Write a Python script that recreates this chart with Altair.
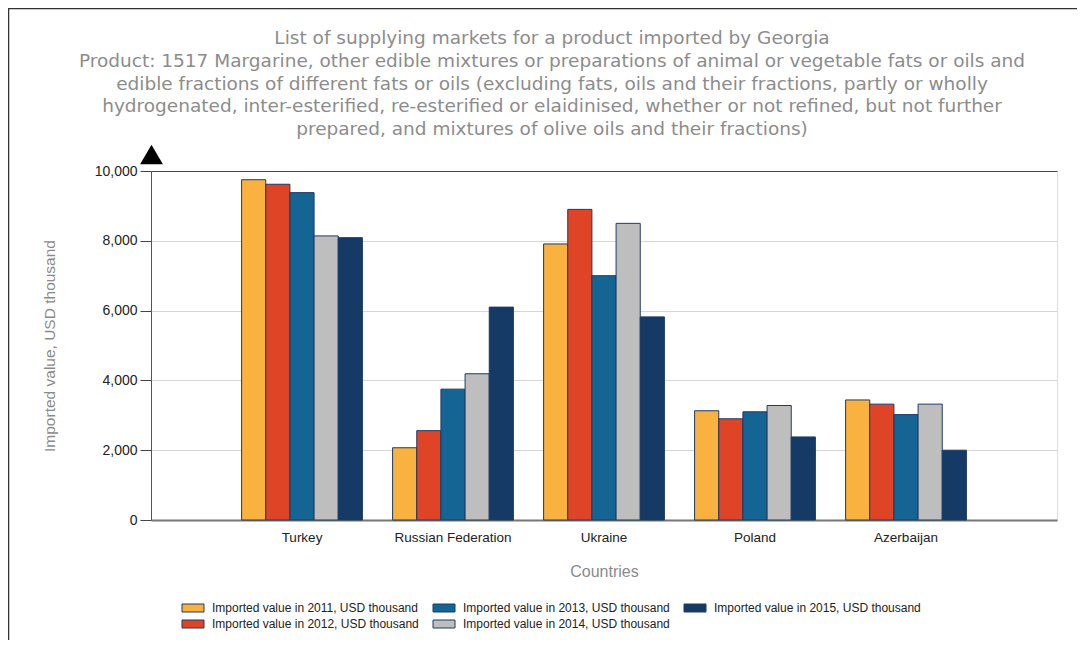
import altair as alt
import pandas as pd

countries = ["Turkey", "Russian Federation", "Ukraine", "Poland", "Azerbaijan"]
years = ["2011", "2012", "2013", "2014", "2015"]
v2011 = [9750, 2070, 7910, 3130, 3440]
v2012 = [9620, 2560, 8900, 2900, 3320]
v2013 = [9380, 3750, 7000, 3100, 3020]
v2014 = [8140, 4190, 8500, 3280, 3320]
v2015 = [8090, 6100, 5820, 2380, 2000]
colors = ["#F9B23F", "#E04427", "#156594", "#BEBEBE", "#163A66"]
y_ticks = [0, 2000, 4000, 6000, 8000, 10000]

title_lines = [
    "List of supplying markets for a product imported by Georgia",
    "Product: 1517 Margarine, other edible mixtures or preparations of animal or vegetable fats or oils and",
    "edible fractions of different fats or oils (excluding fats, oils and their fractions, partly or wholly",
    "hydrogenated, inter-esterified, re-esterified or elaidinised, whether or not refined, but not further",
    "prepared, and mixtures of olive oils and their fractions)",
]

series_names = [f"Imported value in {y}, USD thousand" for y in years]
all_vals = [v2011, v2012, v2013, v2014, v2015]
rows = []
for s, vals in zip(series_names, all_vals):
    for c, v in zip(countries, vals):
        rows.append({"Country": c, "Series": s, "Value": v})
df = pd.DataFrame(rows)

FONT = "Liberation Sans"
FRAME = "#2d4b77"

bars = alt.Chart(df).mark_bar(stroke="#1f3a63", strokeWidth=1).encode(
    x=alt.X("Country:N", sort=countries,
            scale=alt.Scale(paddingInner=0.2, paddingOuter=0.6),
            axis=alt.Axis(title="Countries", labelAngle=0, ticks=False,
                          labelFont=FONT, labelFontSize=13.5, labelColor="#222222",
                          labelPadding=10, domainColor="#777777", domainWidth=2,
                          titleFont=FONT, titleFontSize=16, titleFontWeight="normal",
                          titleColor="#8a8a8a", titlePadding=20)),
    xOffset=alt.XOffset("Series:N", sort=series_names,
                        scale=alt.Scale(paddingInner=0, paddingOuter=0)),
    y=alt.Y("Value:Q", scale=alt.Scale(domain=[0, 10000], nice=False),
            axis=alt.Axis(title="Imported value, USD thousand", values=y_ticks, format=",d",
                          labelFont=FONT, labelFontSize=14, labelColor="#222222",
                          tickSize=11, tickColor="#444444", labelPadding=3,
                          domainColor="#555555",
                          gridColor=alt.condition("datum.value == 10000", alt.value(FRAME), alt.value("#d6d6d6")),
                          titleFont=FONT, titleFontSize=15.5, titleFontWeight="normal",
                          titleColor="#8a8a8a", titlePadding=37)),
    color=alt.Color("Series:N",
                    scale=alt.Scale(domain=series_names, range=colors),
                    legend=alt.Legend(title=None, orient="none", legendX=29, legendY=431,
                                      columns=3, columnPadding=12, rowPadding=4,
                                      symbolType="M-1,-1H4.5V1H-1Z", symbolSize=64,
                                      symbolStrokeColor="#1f3a63", symbolStrokeWidth=1,
                                      symbolOpacity=1, labelFont=FONT, labelFontSize=12,
                                      labelColor="#222222", labelLimit=0, labelOffset=20,
                                      gridAlign="all")),
)

title_text = alt.Chart(alt.Data(values=[{}])).mark_text(
    text=title_lines, font="DejaVu Sans", fontSize=18.5, color="#8c8c8c",
    align="center", baseline="alphabetic", lineHeight=22.75
).encode(x=alt.value(401), y=alt.value(-127))

marker = alt.Chart(alt.Data(values=[{}])).mark_point(
    shape="triangle-up", filled=True, color="black", opacity=1, size=520
).encode(x=alt.value(0.5), y=alt.value(-16.5))

frame_left = alt.Chart(alt.Data(values=[{}])).mark_rule(color="#333333", strokeWidth=1.5).encode(
    x=alt.value(-142.5), y=alt.value(-163), y2=alt.value(476))
frame_top = alt.Chart(alt.Data(values=[{}])).mark_rule(color="#333333", strokeWidth=1.5).encode(
    x=alt.value(-143), x2=alt.value(926), y=alt.value(-162.5))

chart = alt.layer(bars, title_text, marker, frame_left, frame_top).properties(
    width=906, height=349,
    padding={"left": 143, "top": 163, "right": 20, "bottom": 120},
    autosize="none",
).configure_view(stroke=FRAME, strokeWidth=1).configure(background="white")

chart.save("out.html", embed_options={"renderer": "svg", "actions": False})
